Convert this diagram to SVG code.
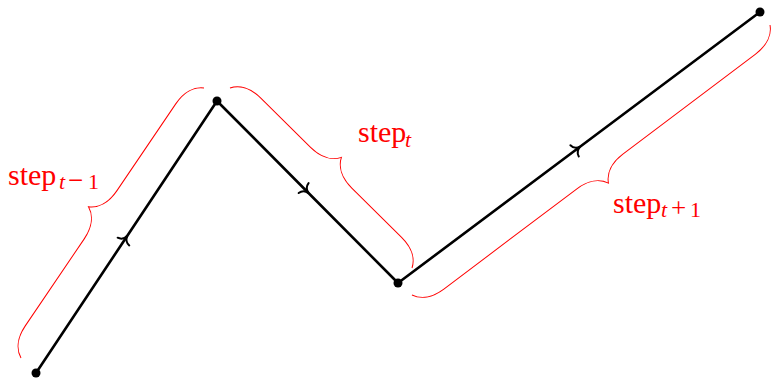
<svg xmlns="http://www.w3.org/2000/svg" width="774" height="378" viewBox="0 0 774 378">
<style>
.seg{fill:none;stroke:#000;stroke-width:2.6;stroke-linecap:round;marker-mid:url(#to)}
.brace{fill:none;stroke:#f00;stroke-width:1}
.lbl{font-family:"Liberation Serif",serif;font-size:30px;fill:#f00}
.sub{font-family:"Liberation Serif",serif;font-size:22px;fill:#f00}
.it{font-style:italic}
.op{font-size:27px}
</style>
<defs>
<marker id="to" markerUnits="userSpaceOnUse" markerWidth="20" markerHeight="20" viewBox="-10 -10 20 20" refX="0" refY="0" orient="auto" overflow="visible">
<path d="M-5.5 -7 C-5 -3.2 -1.8 -0.6 1.5 0 C-1.8 0.6 -5 3.2 -5.5 7" fill="none" stroke="#000" stroke-width="2" stroke-linecap="round"/>
</marker>
</defs>
<g id="connectors">
<path class="seg" d="M36 373 L126.5 237 L217 101"/>
<path class="seg" d="M217 101 L307.5 192 L398 283"/>
<path class="seg" d="M398 283 L579 147.5 L760 12"/>
</g>
<g id="p0"><circle cx="36" cy="373" r="4.5"/></g>
<g id="p1"><circle cx="217" cy="101" r="4.5"/></g>
<g id="p2"><circle cx="398" cy="283" r="4.5"/></g>
<g id="p3"><circle cx="760" cy="12" r="4.5"/></g>
<g id="brace1">
<path class="brace" transform="translate(21 358) rotate(-55.87)" d="M0 0 C4.35 -8.7 14.5 -14.5 29 -14.5 L134.1 -14.5 C148.6 -14.5 158.75 -20.3 163.1 -29 C167.45 -20.3 177.6 -14.5 192.1 -14.5 L297.2 -14.5 C311.7 -14.5 321.85 -8.7 326.2 0"/>
<text class="lbl" x="8" y="185">step</text>
<text class="sub" y="189"><tspan class="it" x="59">t</tspan><tspan class="op" x="68">−</tspan><tspan x="88">1</tspan></text>
</g>
<g id="brace2">
<path class="brace" transform="translate(230 88) rotate(44.68)" d="M0 0 C4.35 -8.7 14.5 -14.5 29 -14.5 L98.98 -14.5 C113.48 -14.5 123.63 -20.3 127.98 -29 C132.33 -20.3 142.48 -14.5 156.98 -14.5 L226.97 -14.5 C241.47 -14.5 251.62 -8.7 255.97 0"/>
<text class="lbl" x="358" y="142">step</text>
<text class="sub" y="147"><tspan class="it" x="405">t</tspan></text>
</g>
<g id="brace3">
<path class="brace" transform="translate(770 25) rotate(142.98)" d="M0 0 C4.35 -8.7 14.5 -14.5 29 -14.5 L195.2 -14.5 C209.7 -14.5 219.85 -20.3 224.2 -29 C228.55 -20.3 238.7 -14.5 253.2 -14.5 L419.4 -14.5 C433.9 -14.5 444.05 -8.7 448.4 0"/>
<text class="lbl" x="613" y="213">step</text>
<text class="sub" y="217"><tspan class="it" x="661">t</tspan><tspan class="op" x="671">+</tspan><tspan x="690">1</tspan></text>
</g>
</svg>
